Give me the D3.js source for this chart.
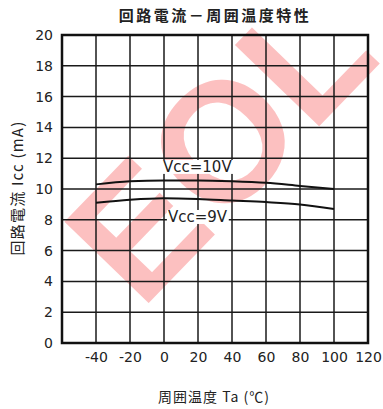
<!DOCTYPE html>
<html>
<head>
<meta charset="utf-8">
<script src="https://cdn.jsdelivr.net/npm/d3@7"></script>
<style>
  body { margin: 0; background: #fff; }
  text { font-family: "DejaVu Sans", sans-serif; fill: #222; }
</style>
</head>
<body>
<div id="chart"></div>
<script>
// data
var temps = [-40, -20, 0, 20, 40, 60, 80, 100];
var icc10 = [10.3, 10.5, 10.55, 10.55, 10.5, 10.4, 10.2, 10.0];
var icc9 = [9.1, 9.3, 9.4, 9.35, 9.25, 9.15, 9.0, 8.7];
var xTicks = [-40, -20, 0, 20, 40, 60, 80, 100, 120];
var yTicks = [0, 2, 4, 6, 8, 10, 12, 14, 16, 18, 20];

var W = 383, H = 409;
var margin = { top: 35, right: 15, bottom: 66, left: 62 };
var width = W - margin.left - margin.right;
var height = H - margin.top - margin.bottom;

var svg = d3.select("#chart").append("svg")
  .attr("width", W)
  .attr("height", H);

svg.append("rect").attr("width", W).attr("height", H).attr("fill", "#fff");

var x = d3.scaleLinear().domain([-60, 120]).range([0, width]);
var y = d3.scaleLinear().domain([0, 20]).range([height, 0]);

// watermark behind the grid
svg.append("text")
  .attr("transform", "translate(218,143) rotate(-46)")
  .attr("text-anchor", "middle")
  .attr("dy", "0.36em")
  .style("font-family", "Liberation Sans, Arial, sans-serif")
  .style("font-size", "170px")
  .style("font-weight", "bold")
  .style("fill", "#fcc0c0")
  .text("EOL");

var g = svg.append("g")
  .attr("transform", "translate(" + margin.left + "," + margin.top + ")");

// grid
g.selectAll(".vgrid")
  .data(xTicks.slice(0, -1))
  .enter().append("line")
  .attr("x1", d => x(d)).attr("x2", d => x(d))
  .attr("y1", 0).attr("y2", height)
  .attr("stroke", "#1a1a1a").attr("stroke-width", 1.5);

g.selectAll(".hgrid")
  .data(yTicks.slice(1, -1))
  .enter().append("line")
  .attr("x1", 0).attr("x2", width)
  .attr("y1", d => y(d)).attr("y2", d => y(d))
  .attr("stroke", "#1a1a1a").attr("stroke-width", 1.5);

// frame
g.append("rect")
  .attr("width", width).attr("height", height)
  .attr("fill", "none").attr("stroke", "#111").attr("stroke-width", 2.5);

// axes
var xAxis = g.append("g")
  .attr("transform", "translate(0," + height + ")")
  .call(d3.axisBottom(x).tickValues(xTicks).tickFormat(d => String(d)).tickSize(0).tickPadding(9));
var yAxis = g.append("g")
  .call(d3.axisLeft(y).tickValues(yTicks).tickFormat(d => String(d)).tickSize(0).tickPadding(9));
[xAxis, yAxis].forEach(function (a) {
  a.select(".domain").remove();
  a.selectAll("text")
    .style("font-size", "14px")
    .style("font-family", "DejaVu Sans, sans-serif")
    .attr("fill", "#222");
});

// curves
var line = d3.line()
  .x((d, i) => x(temps[i]))
  .y(d => y(d))
  .curve(d3.curveMonotoneX);

[icc10, icc9].forEach(function (s) {
  g.append("path")
    .datum(s)
    .attr("d", line)
    .attr("fill", "none")
    .attr("stroke", "#111")
    .attr("stroke-width", 2);
});

// series labels with white box
function seriesLabel(txt, tx, ty) {
  var t = g.append("text")
    .attr("x", x(tx)).attr("y", y(ty))
    .attr("dy", "0.35em")
    .style("font-size", "15px")
    .text(txt);
  var b = t.node().getBBox();
  g.append("rect")
    .attr("x", b.x - 1).attr("y", b.y + 2)
    .attr("width", b.width + 2).attr("height", b.height - 4)
    .attr("fill", "#fff");
  t.raise();
}
seriesLabel("Vcc=10V", -0.6, 11.45);
seriesLabel("Vcc=9V", 2.3, 8.2);

// title
svg.append("text")
  .attr("x", 215).attr("y", 21)
  .attr("text-anchor", "middle")
  .style("font-size", "15px")
  .style("letter-spacing", "2.5px")
  .style("font-family", "Noto Sans CJK JP, sans-serif")
  .style("font-weight", "bold")
  .text("回路電流－周囲温度特性");

// x label
svg.append("text")
  .attr("x", 214).attr("y", 402)
  .attr("text-anchor", "middle")
  .style("font-size", "14px")
  .style("letter-spacing", "1px")
  .style("font-family", "Noto Sans CJK JP, sans-serif")
  .text("周囲温度 Ta (℃)");

// y label
svg.append("text")
  .attr("transform", "translate(23,188) rotate(-90)")
  .attr("text-anchor", "middle")
  .style("font-size", "15px")
  .style("letter-spacing", "1.2px")
  .style("font-family", "Noto Sans CJK JP, sans-serif")
  .text("回路電流 Icc (mA)");
</script>
</body>
</html>
